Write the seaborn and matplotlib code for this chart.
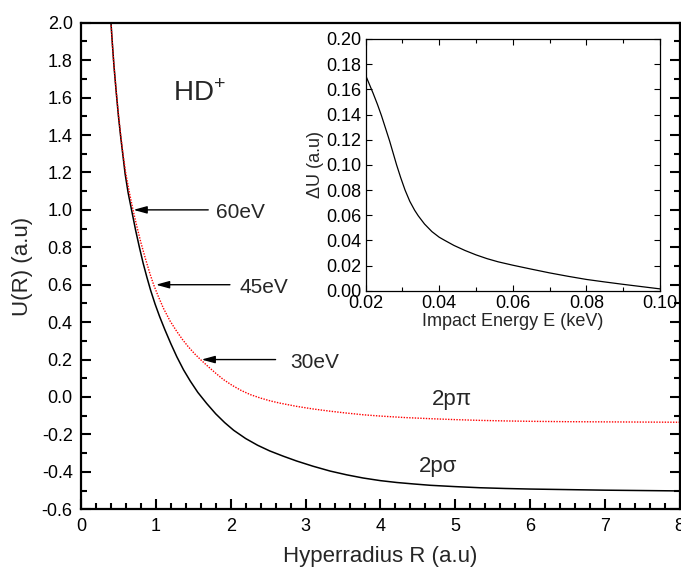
import matplotlib
matplotlib.use('Agg')
import pandas as pd
import matplotlib.pyplot as plt
import seaborn as sns
from matplotlib.ticker import MultipleLocator, FormatStrFormatter

# 2p-sigma potential curve (black, solid)
R_sigma = [0.40, 0.42, 0.44, 0.47, 0.50, 0.53, 0.56, 0.59, 0.63, 0.68, 0.73, 0.78, 0.83,
           0.88, 0.93, 0.99, 1.05, 1.12, 1.20, 1.28, 1.37, 1.46, 1.56, 1.68, 1.80, 1.92,
           2.04, 2.20, 2.36, 2.52, 2.70, 2.88, 3.10, 3.33, 3.55, 3.77, 4.00, 4.22, 4.45,
           4.67, 5.00, 5.33, 5.67, 6.00, 6.50, 7.00, 7.50, 8.00]
U_sigma = [2.00, 1.88, 1.77, 1.63, 1.50, 1.39, 1.29, 1.19, 1.09, 0.99, 0.89, 0.80, 0.715,
           0.64, 0.57, 0.496, 0.43, 0.36, 0.285, 0.215, 0.145, 0.085, 0.025, -0.035, -0.09,
           -0.137, -0.178, -0.222, -0.258, -0.288, -0.316, -0.342, -0.370, -0.396, -0.416,
           -0.433, -0.447, -0.457, -0.465, -0.472, -0.479, -0.485, -0.489, -0.492, -0.495,
           -0.498, -0.500, -0.502]

# 2p-pi potential curve (red, dotted)
R_pi = [0.40, 0.42, 0.44, 0.47, 0.50, 0.53, 0.56, 0.60, 0.65, 0.70, 0.75, 0.80, 0.86,
        0.92, 0.97, 1.03, 1.10, 1.19, 1.28, 1.36, 1.43, 1.52, 1.61, 1.70, 1.80, 1.90,
        2.02, 2.14, 2.26, 2.40, 2.53, 2.66, 2.88, 3.10, 3.33, 3.55, 3.77, 4.00, 4.33,
        4.67, 5.00, 5.33, 5.67, 6.00, 6.50, 7.00, 7.50, 8.00]
U_pi = [2.00, 1.88, 1.77, 1.635, 1.51, 1.40, 1.30, 1.19, 1.085, 0.99, 0.905, 0.825, 0.74,
        0.66, 0.60, 0.54, 0.475, 0.406, 0.35, 0.305, 0.27, 0.23, 0.195, 0.162, 0.127,
        0.094, 0.062, 0.035, 0.013, -0.006, -0.021, -0.033, -0.050, -0.064, -0.076,
        -0.086, -0.095, -0.102, -0.110, -0.116, -0.121, -0.125, -0.128, -0.130, -0.132,
        -0.133, -0.134, -0.135]

# inset: energy gap vs impact energy
E_keV = [0.0200, 0.0210, 0.0220, 0.0232, 0.0243, 0.0254, 0.0265, 0.0275, 0.0284, 0.0295,
         0.0307, 0.0320, 0.0333, 0.0343, 0.0360, 0.0380, 0.0400, 0.0415, 0.0440, 0.0470,
         0.0500, 0.0530, 0.0560, 0.0600, 0.0650, 0.0700, 0.0750, 0.0800, 0.0850, 0.0900,
         0.0950, 0.1000]
dU = [0.171, 0.164, 0.157, 0.148, 0.139, 0.129, 0.119, 0.109, 0.100, 0.090, 0.080, 0.071,
      0.064, 0.0595, 0.053, 0.047, 0.0425, 0.040, 0.036, 0.032, 0.0285, 0.0255, 0.023,
      0.0203, 0.0172, 0.0142, 0.0115, 0.0090, 0.0070, 0.0051, 0.0033, 0.0015]

# arrow annotations
arrow_labels = ["60eV", "45eV", "30eV"]
arrow_tip_R = [0.70, 1.00, 1.61]
arrow_U = [1.0, 0.60, 0.20]
arrow_tail_R = [1.70, 1.99, 2.60]
label_R = [1.81, 2.12, 2.79]

sns.set_theme(style='ticks')
plt.rcParams['font.family'] = ['Liberation Sans', 'DejaVu Sans']
plt.rcParams['axes.unicode_minus'] = False
plt.rcParams['mathtext.fontset'] = 'custom'
plt.rcParams['mathtext.rm'] = 'Liberation Sans'

fig = plt.figure(figsize=(6.81, 5.69), dpi=100)
ax = fig.add_axes([0.119, 0.105, 0.879, 0.855])

sig = pd.DataFrame({'R': R_sigma, 'U': U_sigma})
pi = pd.DataFrame({'R': R_pi, 'U': U_pi})
sns.lineplot(data=sig, x='R', y='U', ax=ax, color='black', lw=1.1)
sns.lineplot(data=pi, x='R', y='U', ax=ax, color='red', lw=1.0, linestyle=(0, (1, 1)))

ax.set_xlim(0, 8)
ax.set_ylim(-0.6, 2.0)
ax.xaxis.set_major_locator(MultipleLocator(1))
ax.xaxis.set_minor_locator(MultipleLocator(0.2))
ax.yaxis.set_major_locator(MultipleLocator(0.2))
ax.yaxis.set_minor_locator(MultipleLocator(0.1))
ax.yaxis.set_major_formatter(FormatStrFormatter('%.1f'))
ax.tick_params(which='both', direction='in', left=True, bottom=True, right=True, top=False,
               labelsize=13, width=1.5, colors='black')
ax.tick_params(which='major', length=7, pad=6)
ax.tick_params(which='minor', length=4)
for s in ax.spines.values():
    s.set_linewidth(1.6)
    s.set_color('black')
ax.set_xlabel('Hyperradius R (a.u)', fontsize=16, labelpad=8)
ax.set_ylabel('U(R) (a.u)', fontsize=16, labelpad=6)

for lab, tip, u, tail, lr in zip(arrow_labels, arrow_tip_R, arrow_U, arrow_tail_R, label_R):
    ax.annotate('', xy=(tip, u), xytext=(tail, u),
                arrowprops=dict(arrowstyle='-|>,head_length=0.8,head_width=0.22', color='black',
                                lw=1.0, mutation_scale=10, shrinkA=0, shrinkB=0))
    ax.text(lr, u - 0.015, lab, fontsize=15, ha='left', va='center')

ax.text(1.23, 1.58, r'HD$^{\mathregular{+}}$', fontsize=20, ha='left', va='baseline')
ax.text(4.69, -0.043, '2p\u03c0', fontsize=16, ha='left', va='baseline')
ax.text(4.52, -0.40, '2p\u03c3', fontsize=16, ha='left', va='baseline')

# inset
ins = fig.add_axes([0.537, 0.489, 0.432, 0.4425])
sns.lineplot(x=E_keV, y=dU, ax=ins, color='black', lw=0.9)
ins.set_xlim(0.02, 0.10)
ins.set_ylim(0.0, 0.20)
ins.xaxis.set_major_locator(MultipleLocator(0.02))
ins.xaxis.set_minor_locator(MultipleLocator(0.01))
ins.yaxis.set_major_locator(MultipleLocator(0.02))
ins.xaxis.set_major_formatter(FormatStrFormatter('%.2f'))
ins.yaxis.set_major_formatter(FormatStrFormatter('%.2f'))
ins.tick_params(which='both', direction='in', left=True, right=True, top=True, bottom=True,
                labelsize=13, width=0.8, colors='black')
ins.tick_params(which='major', length=4, pad=3)
ins.tick_params(which='minor', length=3)
for s in ins.spines.values():
    s.set_linewidth(0.9)
    s.set_color('black')
ins.set_xlabel('Impact Energy E (keV)', fontsize=13, labelpad=1)
ins.set_ylabel('\u0394U (a.u)', fontsize=13, labelpad=2)

fig.savefig('out.png', dpi=100)
